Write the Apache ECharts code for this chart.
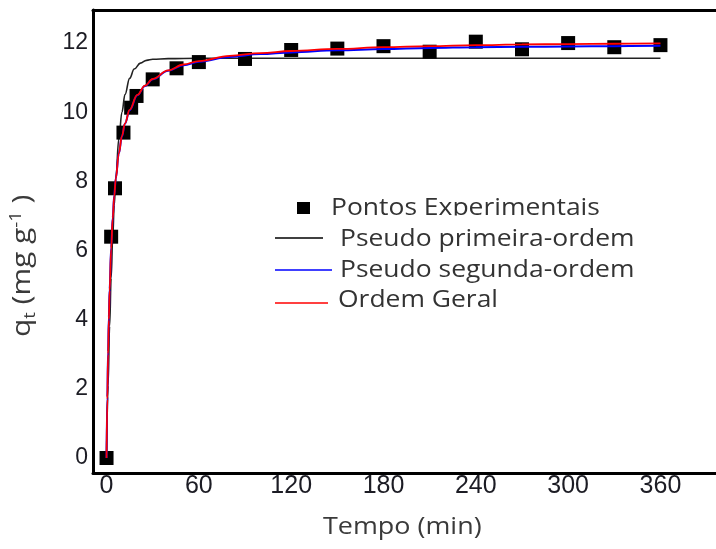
<!DOCTYPE html>
<html>
<head>
<meta charset="utf-8">
<script src="https://cdn.jsdelivr.net/npm/echarts@6/dist/echarts.min.js"></script>
<style>
  html, body { margin: 0; padding: 0; background: #fff; }
  #chart { width: 716px; height: 549px; }
</style>
</head>
<body>
<div id="chart"></div>
<script>
// Adsorption kinetics: experimental uptake and three fitted models
const timeExp = [0, 3, 5.5, 11, 16, 19.5, 30, 45.5, 60, 90, 120, 150, 180, 210, 240, 270, 300, 330, 360];
const qExp    = [0, 6.4, 7.8, 9.41, 10.13, 10.47, 10.95, 11.27, 11.45, 11.54, 11.8, 11.84, 11.91, 11.75, 12.04, 11.82, 12.0, 11.88, 11.94];

// Pseudo primeira-ordem
const pfoT = [0, 1, 2, 3, 4, 5, 6, 8, 10, 12, 15, 18, 22, 26, 30, 40, 60, 120, 240, 360];
const pfoQ = [0, 2.10, 3.81, 5.21, 6.37, 7.31, 8.08, 9.23, 10.00, 10.51, 10.98, 11.25, 11.42, 11.50, 11.53, 11.55, 11.56, 11.56, 11.56, 11.56];

// Pseudo segunda-ordem
const psoT = [0, 0.5, 1, 1.5, 2, 3, 4, 5, 6, 8, 10, 12, 15, 20, 25, 30, 40, 50, 60, 80, 100, 120, 150, 180, 210, 240, 270, 300, 330, 360];
const psoQ = [0, 1.76, 3.07, 4.08, 4.89, 6.09, 6.95, 7.59, 8.09, 8.81, 9.30, 9.67, 10.06, 10.49, 10.76, 10.95, 11.20, 11.36, 11.46, 11.60, 11.68, 11.73, 11.79, 11.83, 11.86, 11.88, 11.89, 11.90, 11.91, 11.92];

// Ordem Geral
const goT = [0, 0.5, 1, 1.5, 2, 3, 4, 5, 6, 8, 10, 12, 15, 20, 25, 30, 40, 50, 60, 80, 100, 120, 150, 180, 210, 240, 270, 300, 330, 360];
const goQ = [0, 1.7, 3.0, 4.0, 4.85, 6.05, 6.92, 7.57, 8.08, 8.81, 9.31, 9.68, 10.07, 10.50, 10.77, 10.96, 11.21, 11.38, 11.48, 11.63, 11.71, 11.77, 11.83, 11.88, 11.91, 11.94, 11.96, 11.97, 11.98, 11.99];

const xTicks = [0, 60, 120, 180, 240, 300, 360];
const yTicks = [0, 2, 4, 6, 8, 10, 12];

const legendNames = ['Pontos Experimentais', 'Pseudo primeira-ordem', 'Pseudo segunda-ordem', 'Ordem Geral'];

const pairs = (xs, ys) => xs.map((x, i) => [x, ys[i]]);

const chart = echarts.init(document.getElementById('chart'), null, { renderer: 'canvas' });

const tickFamily = 'Liberation Sans, Arial, sans-serif';
const tickColor = '#1c1c24';
const textFont = 'Open Sans, sans-serif';
const textColor = '#3a3a3a';
const frameLine = { show: true, onZero: false, lineStyle: { color: '#000', width: 3 } };
const X_MIN = -8.8, X_MAX = 400;
const Y_MIN = -0.434, Y_MAX = 12.956;

// wide-set label text used for the legend and axis titles
const legendText = (x, y, text) => ({
  type: 'text', x: x, y: y, scaleX: 1.15,
  style: { text: text, fontFamily: textFont, fontSize: 23, fill: '#333', verticalAlign: 'middle' }
});

chart.setOption({
  animation: false,
  backgroundColor: '#fff',
  grid: {
    left: 93, right: -6, top: 10, bottom: 76,
    outerBoundsMode: 'none', containLabel: false
  },
  xAxis: [
    {
      type: 'value', min: X_MIN, max: X_MAX, position: 'bottom',
      axisLine: frameLine, axisTick: { show: false }, splitLine: { show: false },
      axisLabel: { customValues: xTicks, margin: 1, fontFamily: tickFamily, fontSize: 25, color: tickColor }
    },
    {
      type: 'value', min: X_MIN, max: X_MAX, position: 'top',
      axisLine: frameLine, axisTick: { show: false }, splitLine: { show: false },
      axisLabel: { show: false }
    }
  ],
  yAxis: {
    type: 'value', min: Y_MIN, max: Y_MAX,
    axisLine: frameLine, axisTick: { show: false }, splitLine: { show: false },
    axisLabel: { customValues: yTicks, margin: 5, fontFamily: tickFamily, fontSize: 23, color: tickColor }
  },
  series: [
    {
      name: legendNames[1], type: 'line', smooth: 0.4, smoothMonotone: 'x', symbol: 'none',
      data: pairs(pfoT, pfoQ),
      lineStyle: { color: '#222', width: 1.6 }, z: 2
    },
    {
      name: legendNames[0], type: 'scatter', symbol: 'rect', symbolSize: [14, 14],
      data: pairs(timeExp, qExp), clip: false,
      itemStyle: { color: '#000', opacity: 1 }, z: 3
    },
    {
      name: legendNames[2], type: 'line', smooth: 0.4, smoothMonotone: 'x', symbol: 'none',
      data: pairs(psoT, psoQ),
      lineStyle: { color: '#0000ff', width: 2 }, z: 4
    },
    {
      name: legendNames[3], type: 'line', smooth: 0.4, smoothMonotone: 'x', symbol: 'none',
      data: pairs(goT, goQ),
      lineStyle: { color: '#ff0000', width: 1.8 }, z: 5
    }
  ],
  graphic: [
    // axis titles
    {
      type: 'text', x: 323, y: 527, scaleX: 1.17,
      style: { text: 'Tempo (min)', fontFamily: textFont, fontSize: 23, fill: textColor, verticalAlign: 'middle' }
    },
    {
      type: 'text', x: 8, y: 337, rotation: Math.PI / 2, scaleX: 1.15,
      style: {
        text: '{q|q}{sub|t}{p| (mg g}{sup|-1}{p| )}',
        rich: {
          q: { fontFamily: textFont, fontSize: 26, fill: textColor },
          p: { fontFamily: textFont, fontSize: 26, fill: textColor },
          sub: { fontFamily: textFont, fontSize: 16, fill: textColor, verticalAlign: 'bottom', padding: [12, 0, 0, 0] },
          sup: { fontFamily: textFont, fontSize: 16, fill: textColor, verticalAlign: 'top', padding: [0, 0, 14, 0] }
        }
      }
    },
    // legend
    { type: 'rect', shape: { x: 297, y: 202, width: 13, height: 12 }, style: { fill: '#000' } },
    legendText(331, 208, legendNames[0]),
    // the first legend entry is cut off just under its baseline
    { type: 'rect', shape: { x: 326, y: 215.5, width: 290, height: 8 }, style: { fill: '#fff' }, z: 100 },
    { type: 'line', shape: { x1: 275, y1: 238, x2: 323, y2: 238 }, style: { stroke: '#000', lineWidth: 1.5 } },
    legendText(340, 239, legendNames[1]),
    { type: 'line', shape: { x1: 275, y1: 270, x2: 332, y2: 270 }, style: { stroke: '#0000ff', lineWidth: 1.5 } },
    legendText(340, 270, legendNames[2]),
    { type: 'line', shape: { x1: 275, y1: 303, x2: 328, y2: 303 }, style: { stroke: '#ff0000', lineWidth: 1.5 } },
    legendText(338, 300, legendNames[3])
  ]
});
</script>
</body>
</html>
